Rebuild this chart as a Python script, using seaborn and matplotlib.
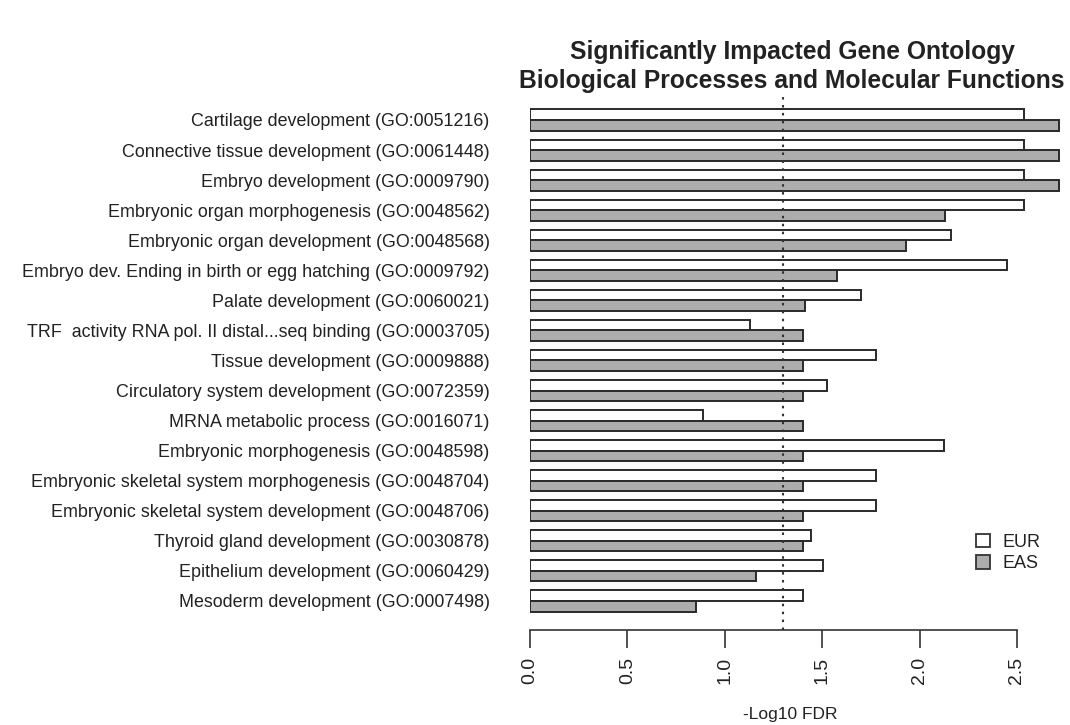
import matplotlib
matplotlib.use("Agg")
import matplotlib.pyplot as plt
import seaborn as sns
import pandas as pd
from matplotlib.patches import Patch

terms = [
    "Cartilage development (GO:0051216)",
    "Connective tissue development (GO:0061448)",
    "Embryo development (GO:0009790)",
    "Embryonic organ morphogenesis (GO:0048562)",
    "Embryonic organ development (GO:0048568)",
    "Embryo dev. Ending in birth or egg hatching (GO:0009792)",
    "Palate development (GO:0060021)",
    "TRF  activity RNA pol. II distal...seq binding (GO:0003705)",
    "Tissue development (GO:0009888)",
    "Circulatory system development (GO:0072359)",
    "MRNA metabolic process (GO:0016071)",
    "Embryonic morphogenesis (GO:0048598)",
    "Embryonic skeletal system morphogenesis (GO:0048704)",
    "Embryonic skeletal system development (GO:0048706)",
    "Thyroid gland development (GO:0030878)",
    "Epithelium development (GO:0060429)",
    "Mesoderm development (GO:0007498)",
]
eur = [2.535, 2.535, 2.535, 2.535, 2.16, 2.45, 1.70, 1.13, 1.775, 1.525,
       0.89, 2.126, 1.775, 1.775, 1.44, 1.505, 1.40]
eas = [2.715, 2.715, 2.715, 2.13, 1.93, 1.575, 1.41, 1.40, 1.40, 1.40,
       1.40, 1.40, 1.40, 1.40, 1.40, 1.162, 0.852]
groups = ["EUR", "EAS"]
xticks = [0.0, 0.5, 1.0, 1.5, 2.0, 2.5]
threshold = 1.3

df = pd.DataFrame({
    "term": terms * 2,
    "value": eur + eas,
    "pop": ["EUR"] * len(terms) + ["EAS"] * len(terms),
})

sns.set_style("white")
plt.rcParams["font.family"] = ["Liberation Sans", "DejaVu Sans"]

W, H = 1070, 725
fig = plt.figure(figsize=(W / 100, H / 100), dpi=100)
ax = fig.add_axes([530 / W, (H - 630) / H, 540 / W, 537 / H])

palette = {"EUR": "white", "EAS": "#ADADAD"}
sns.barplot(data=df, x="value", y="term", hue="pop", hue_order=groups,
            orient="h", palette=palette, edgecolor="#2a2a2a", linewidth=1.4,
            width=0.7, gap=0, ax=ax, legend=False, saturation=1)

ax.set_xlim(0, 540 / 194.8)
ax.set_ylim(16.965, -0.898)
ax.axvline(threshold, linestyle=(0, (1.2, 2.6)), color="#333333", lw=1.5, zorder=5)

for s in ["left", "top", "right"]:
    ax.spines[s].set_visible(False)
ax.spines["bottom"].set_bounds(0, 2.5)
ax.spines["bottom"].set_color("#333333")
ax.spines["bottom"].set_linewidth(1.2)

ax.set_xticks(xticks)
ax.set_xticklabels([f"{t:.1f}" for t in xticks], rotation=90, fontsize=14, color="#222222")
ax.tick_params(axis="x", direction="out", length=13, width=1.2, color="#333333", pad=6,
               bottom=True)
ax.tick_params(axis="y", length=0, pad=29, labelsize=12.9, labelcolor="#222222")
ax.set_ylabel("")
ax.set_xlabel("-Log10 FDR", fontsize=12.5, color="#222222")
ax.xaxis.set_label_coords((790 - 530) / 540, -(715 - 630) / 537)
ax.xaxis.label.set_va("center")

fig.text(792 / W, 1 - 52 / H, "Significantly Impacted Gene Ontology", ha="center", va="center",
         fontsize=17.7, fontweight="bold", color="#222222")
fig.text(792 / W, 1 - 81 / H, "Biological Processes and Molecular Functions", ha="center",
         va="center", fontsize=17.7, fontweight="bold", color="#222222")

handles = [Patch(facecolor=palette[g], edgecolor="#333333", linewidth=1.3, label=g) for g in groups]
fig.legend(handles=handles, loc="center left", bbox_to_anchor=(967 / W, 1 - 553 / H),
           frameon=False, fontsize=13, handlelength=0.75, handleheight=0.75,
           handletextpad=0.7, labelspacing=0.25, borderpad=0, labelcolor="#222222")

fig.savefig("out.png", dpi=100)
